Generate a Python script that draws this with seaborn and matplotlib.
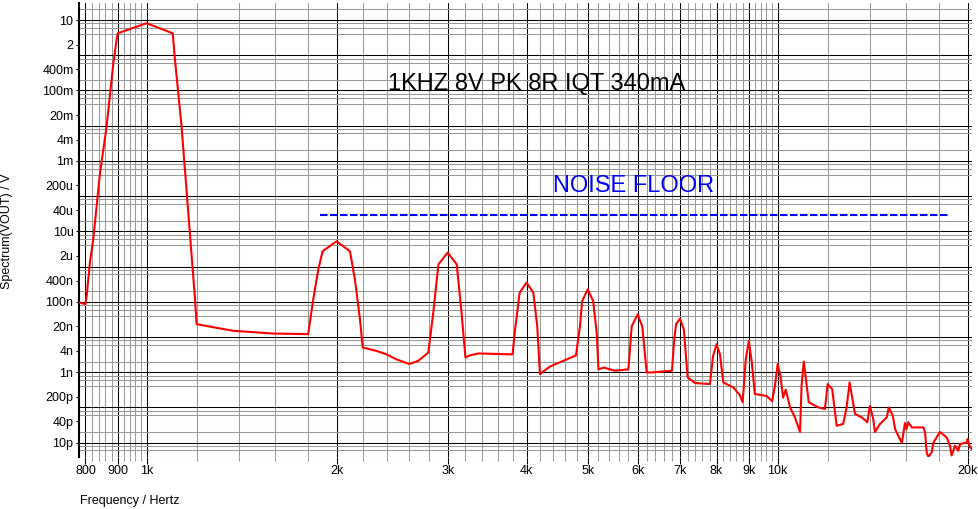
import matplotlib
matplotlib.use('Agg')
import matplotlib.pyplot as plt
import matplotlib.ticker as mticker
import seaborn as sns
import pandas as pd

# spectrum (Hz, V)
freq_hz = [
    781, 800, 804, 813, 823, 843, 864, 885, 896, 900,
    1000, 1100, 1109, 1136, 1164, 1193, 1200, 1370, 1586, 1803,
    1837, 1871, 1900, 2000, 2100, 2138, 2178, 2200, 2315, 2400,
    2490, 2608, 2694, 2795, 2846, 2900, 3000, 3100, 3155, 3200,
    3253, 3354, 3800, 3834, 3900, 4000, 4100, 4159, 4200, 4356,
    4630, 4790, 4860, 4900, 5000, 5100, 5167, 5200, 5300, 5524,
    5800, 5870, 6000, 6100, 6200, 6300, 6800, 6850, 6900, 7000,
    7100, 7200, 7400, 7810, 7900, 8000, 8100, 8200, 8504, 8714,
    8800, 8900, 9000, 9100, 9200, 9607, 9800, 9900, 10000, 10100,
    10200, 10300, 10460, 10650, 10850, 10910, 11000, 11100, 11200, 11600,
    11880, 12000, 12200, 12400, 12700, 12860, 13000, 13260, 13590, 13870,
    14000, 14170, 14260, 14530, 14890, 15000, 15220, 15350, 15730, 15910,
    16000, 16100, 16310, 17010, 17120, 17220, 17330, 17540, 17650, 18080,
    18530, 18750, 18860, 19100, 19330, 19450, 19930, 20000, 20170, 20370,
]
spectrum_v = [
    9.6e-8, 8.5e-8, 1.6e-7, 1.3e-6, 5.9e-6, 4.1e-4, 9.3e-3, 0.53, 2.7, 4.2,
    8.1, 4.2, 0.74, 9.3e-3, 3.4e-5, 1.2e-7, 2.3e-8, 1.5e-8, 1.25e-8, 1.2e-8,
    1.2e-7, 8.3e-7, 2.7e-6, 5.2e-6, 2.7e-6, 4.3e-7, 3.2e-8, 5.0e-9, 4.0e-9, 3.2e-9,
    2.3e-9, 1.7e-9, 2.1e-9, 3.6e-9, 4.9e-8, 1.15e-6, 2.5e-6, 1.15e-6, 5.0e-8, 2.6e-9,
    3.0e-9, 3.4e-9, 3.2e-9, 1.5e-8, 1.8e-7, 3.5e-7, 1.8e-7, 2.0e-8, 8.8e-10, 1.45e-9,
    2.3e-9, 3.0e-9, 2.0e-8, 1.05e-7, 2.25e-7, 1.05e-7, 1.3e-8, 1.2e-9, 1.35e-9, 1.1e-9,
    1.2e-9, 2.0e-8, 4.4e-8, 2.0e-8, 9.8e-10, 9.8e-10, 1.1e-9, 6.9e-9, 2.3e-8, 3.3e-8,
    1.65e-8, 7.1e-10, 4.9e-10, 4.6e-10, 2.9e-9, 6.2e-9, 3.2e-9, 5.1e-10, 3.7e-10, 2.2e-10,
    1.4e-10, 2.3e-9, 7.7e-9, 1.9e-9, 2.4e-10, 2.1e-10, 1.5e-10, 4.1e-10, 1.7e-9, 7.9e-10,
    1.9e-10, 3.2e-10, 1.0e-10, 5.2e-11, 2.0e-11, 4.1e-10, 2.0e-9, 5.1e-10, 1.4e-10, 1.0e-10,
    9.0e-11, 4.6e-10, 3.3e-10, 3.0e-11, 3.4e-11, 1.0e-10, 5.1e-10, 6.5e-11, 5.2e-11, 3.8e-11,
    1.1e-10, 4.7e-11, 2.0e-11, 3.4e-11, 5.2e-11, 1.0e-10, 5.8e-11, 2.4e-11, 9.8e-12, 3.6e-11,
    2.4e-11, 3.8e-11, 2.7e-11, 2.7e-11, 2.0e-11, 5.3e-12, 3.9e-12, 5.3e-12, 1.0e-11, 2.0e-11,
    1.4e-11, 8.2e-12, 4.3e-12, 8.2e-12, 5.9e-12, 9.1e-12, 1.0e-11, 1.26e-11, 7.4e-12, 6.3e-12,
]

xtick_values = [800, 900, 1000, 2000, 3000, 4000, 5000, 6000, 7000, 8000, 9000, 10000, 20000]
xtick_labels = ['800', '900', '1k', '2k', '3k', '4k', '5k', '6k', '7k', '8k', '9k', '10k', '20k']
ytick_values = [10, 2, 0.4, 0.1, 0.02, 0.004, 1e-3, 2e-4, 4e-5, 1e-5, 2e-6, 4e-7,
                1e-7, 2e-8, 4e-9, 1e-9, 2e-10, 4e-11, 1e-11]
ytick_labels = ['10', '2', '400m', '100m', '20m', '4m', '1m', '200u', '40u', '10u', '2u', '400n',
                '100n', '20n', '4n', '1n', '200p', '40p', '10p']

title_text = '1KHZ 8V PK 8R IQT 340mA'
noise_text = 'NOISE FLOOR'
noise_level = 2.86e-5
noise_start, noise_end = 1882, 18750

x_lim = (781.3, 20320)
y_lim = (3.9e-12, 30.4)

# grid positions
x_minor = [f for f in range(820, 1000, 20) if f != 900]
x_minor += [f for f in range(1200, 10000, 200) if f % 1000 != 0]
x_minor += [12000, 14000, 16000, 18000]
y_minor = [m * 10.0 ** e for e in range(-12, 2) for m in (2, 4, 6, 8)]
y_minor = [v for v in y_minor if y_lim[0] < v < y_lim[1]]
y_decades = [10.0 ** e for e in range(-11, 2)]

sns.set_theme(style='white')
plt.rcParams['font.family'] = ['Liberation Sans', 'DejaVu Sans']

fig = plt.figure(figsize=(9.79, 5.09), dpi=100)
ax = fig.add_axes([79 / 979, 1 - 457 / 509, (972 - 79) / 979, (457 - 3) / 509])

df = pd.DataFrame({'Frequency': freq_hz, 'Spectrum': spectrum_v})
sns.lineplot(data=df, x='Frequency', y='Spectrum', color='red', lw=1.5,
             sort=False, errorbar=None, ax=ax, zorder=5)

ax.set_xscale('log')
ax.set_yscale('log')

ax.set_xticks(xtick_values, xtick_labels)
ax.set_xticks(x_minor, minor=True)
ax.xaxis.set_minor_formatter(mticker.NullFormatter())
ax.set_yticks(ytick_values, ytick_labels)
ax.set_yticks(y_minor, minor=True)
ax.yaxis.set_minor_formatter(mticker.NullFormatter())
ax.set_xlim(*x_lim)
ax.set_ylim(*y_lim)

ax.grid(False)
ax.grid(which='major', axis='x', color='black', lw=0.75)
ax.grid(which='minor', axis='x', color='#999999', lw=0.75)
ax.grid(which='minor', axis='y', color='#999999', lw=0.75)
for d in y_decades:
    ax.axhline(d, color='black', lw=0.75, zorder=1)

ax.tick_params(axis='x', which='major', direction='out', length=5, width=0.75,
               color='black', pad=0.5, labelsize=9, labelcolor='black', bottom=True)
ax.tick_params(axis='x', which='minor', direction='out', length=3, width=0.75,
               color='#999999', bottom=True)
ax.tick_params(axis='y', which='major', direction='out', length=2.5, width=0.75,
               color='black', pad=1.5, labelsize=9, labelcolor='black', left=True)
ax.tick_params(axis='y', which='minor', length=0)

for side in ['top', 'right', 'bottom']:
    ax.spines[side].set_visible(False)
ax.spines['left'].set_color('black')
ax.spines['left'].set_linewidth(1.5)

ax.set_xlabel('')
ax.set_ylabel('')
fig.text(80 / 979, 1 - 501 / 509, 'Frequency / Hertz', fontsize=9, color='black',
         ha='left', va='center')
fig.text(7.5 / 979, 1 - 231 / 509, 'Spectrum(VOUT) / V', fontsize=9, color='black',
         rotation=90, ha='center', va='center')

ax.text(2414, 0.104, title_text, fontsize=17, color='black', ha='left', va='baseline', zorder=6)
ax.text(4405, 1.34e-4, noise_text, fontsize=17, color='blue', ha='left', va='baseline', zorder=6)
ax.hlines(noise_level, noise_start, noise_end, colors='blue', lw=1.5,
          linestyles=(0, (3.6, 1.2)), zorder=6)

fig.savefig('out.png', dpi=100)
